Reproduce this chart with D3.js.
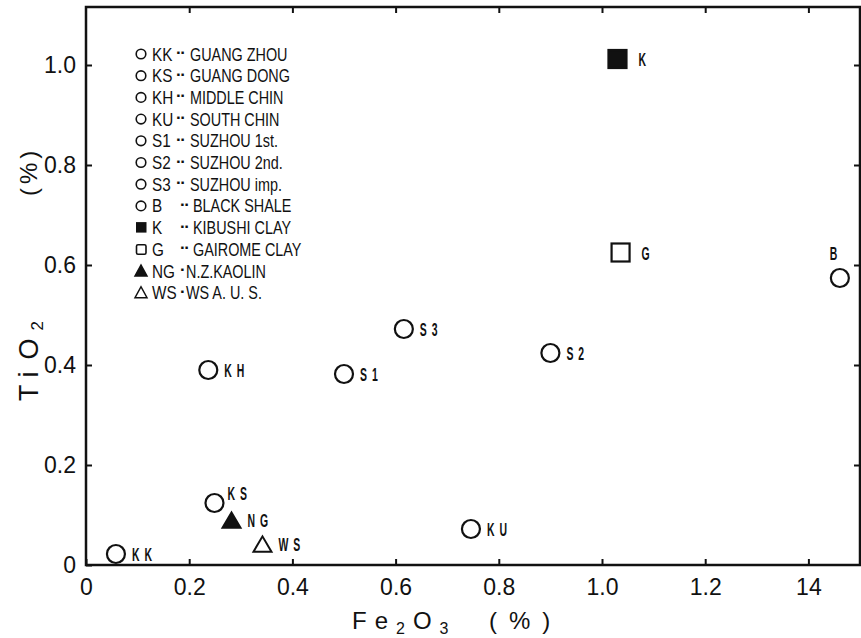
<!DOCTYPE html>
<html><head><meta charset="utf-8">
<script src="https://cdn.jsdelivr.net/npm/d3@7"></script>
<style>
html,body{margin:0;padding:0;background:#fff;}
svg{display:block;}
</style></head>
<body>
<svg id="chart" width="861" height="638"></svg>
<script>
// ---- data ----
const codes   = ["KK","KS","KH","KU","S1","S2","S3","B","K","G","NG","WS"];
const names   = ["GUANG ZHOU","GUANG DONG","MIDDLE CHIN","SOUTH CHIN","SUZHOU 1st.","SUZHOU 2nd.","SUZHOU imp.","BLACK SHALE","KIBUSHI CLAY","GAIROME CLAY","N.Z.KAOLIN","WS A. U. S."];
const seps    = ["··","··","··","··","··","··","··","··","··","··","·","·"];
const fe2o3   = [0.058,0.249,0.237,0.746,0.500,0.900,0.616,1.461,1.030,1.036,0.282,0.342];
const tio2    = [0.022,0.124,0.390,0.072,0.382,0.424,0.472,0.574,1.012,0.625,0.090,0.042];
const symbols = ["circle","circle","circle","circle","circle","circle","circle","circle","squareFilled","squareOpen","triFilled","triOpen"];
const labelPos= ["right","upright","right","right","right","right","right","above","right","right","right","right"];
const xTicks  = [0,0.2,0.4,0.6,0.8,1.0,1.2,1.4];
const xTickLabels = ["0","0.2","0.4","0.6","0.8","1.0","1.2","14"];
const yTicks  = [0,0.2,0.4,0.6,0.8,1.0];
const yTickLabels = ["0","0.2","0.4","0.6","0.8","1.0"];

const svg = d3.select("#chart");
const L=86, R=860, T=7, B=565;
const x = d3.scaleLinear().domain([0,1.5]).range([L,R]);
const y = d3.scaleLinear().domain([0,1.116]).range([B,T]);
const FONT = "'Liberation Sans', Arial, Helvetica, sans-serif";

// axes
const ax = svg.append("g").attr("font-family",FONT);
ax.append("g").attr("transform",`translate(0,${B})`)
  .call(d3.axisBottom(x).tickValues(xTicks).tickSizeInner(-6).tickSizeOuter(0).tickPadding(14)
    .tickFormat((d,i)=>xTickLabels[i]));
ax.append("g").attr("transform",`translate(${L},0)`)
  .call(d3.axisLeft(y).tickValues(yTicks).tickSizeInner(-6).tickSizeOuter(0).tickPadding(10)
    .tickFormat((d,i)=>yTickLabels[i]));
ax.append("g").attr("transform",`translate(0,${T})`)
  .call(d3.axisTop(x).tickValues(xTicks.slice(1)).tickSizeInner(-6).tickSizeOuter(0).tickFormat(""));
ax.append("g").attr("transform",`translate(${R},0)`)
  .call(d3.axisRight(y).tickValues(yTicks.slice(1)).tickSizeInner(-6).tickSizeOuter(0).tickFormat(""));
ax.selectAll(".domain").remove();
ax.selectAll(".tick line").attr("stroke","#111").attr("stroke-width",2);
ax.selectAll(".tick text").attr("font-size",23).attr("fill","#111");

// frame
svg.append("rect").attr("x",L).attr("y",T).attr("width",R-L).attr("height",B-T)
  .attr("fill","none").attr("stroke","#111").attr("stroke-width",2.5);

// symbol drawing
function drawSym(g, type, cx, cy, s){
  if(type==="circle"){
    g.append("circle").attr("cx",cx).attr("cy",cy).attr("r",s*0.5)
     .attr("fill","none").attr("stroke","#111").attr("stroke-width",2.2);
  } else if(type==="squareFilled"||type==="squareOpen"){
    g.append("rect").attr("x",cx-s/2).attr("y",cy-s/2).attr("width",s).attr("height",s)
     .attr("fill",type==="squareFilled"?"#111":"none").attr("stroke","#111").attr("stroke-width",2.2);
  } else {
    const h=s*0.85;
    g.append("path").attr("d",`M${cx-s/2},${cy+h/2}L${cx+s/2},${cy+h/2}L${cx},${cy-h/2}Z`)
     .attr("fill",type==="triFilled"?"#111":"none").attr("stroke","#111").attr("stroke-width",2);
  }
}

// points
const pts = svg.append("g");
codes.forEach((c,i)=>{
  const cx=x(fe2o3[i]), cy=y(tio2[i]);
  drawSym(pts, symbols[i], cx, cy, 18);
  let lx=cx+16, ly=cy, anchor="start";
  if(labelPos[i]==="upright"){lx=cx+13; ly=cy-10;}
  if(labelPos[i]==="above"){lx=cx-4; ly=cy-25; anchor="middle";}
  if(symbols[i].startsWith("square")) lx=cx+21;
  pts.append("text")
    .attr("transform",`translate(${lx},${ly+7}) scale(0.55,1)`)
    .attr("text-anchor",anchor)
    .attr("font-family",FONT).attr("font-size",19).attr("font-weight","bold").attr("letter-spacing",9)
    .attr("fill","#111").text(c);
});

// legend
const lg = svg.append("g").attr("font-family",FONT).attr("fill","#111");
codes.forEach((c,i)=>{
  const cy = 54 + i*21.7;
  const t = symbols[i];
  if(t==="circle") lg.append("circle").attr("cx",141).attr("cy",cy).attr("r",4.8)
       .attr("fill","none").attr("stroke","#111").attr("stroke-width",1.6);
  else if(t==="squareFilled") lg.append("rect").attr("x",136).attr("y",cy-5.5).attr("width",10.5).attr("height",10.5).attr("fill","#111");
  else if(t==="squareOpen") lg.append("rect").attr("x",136.5).attr("y",cy-4.5).attr("width",9.5).attr("height",9.5).attr("rx",1.5)
       .attr("fill","none").attr("stroke","#111").attr("stroke-width",1.6);
  else {
    const p=`M135,${cy+5}L147,${cy+5}L141,${cy-6}Z`;
    lg.append("path").attr("d",p).attr("fill",t==="triFilled"?"#111":"none").attr("stroke","#111").attr("stroke-width",1.5);
  }
  lg.append("text").attr("transform",`translate(152,${cy+6.5}) scale(0.85,1)`).attr("font-size",18).text(c);
  const sepX = seps[i].length===2 ? (c.length===1 ? 180 : 176) : 180;
  lg.append("text").attr("x",sepX).attr("y",cy+4).attr("font-size",17).attr("font-weight","bold").attr("letter-spacing",-1.5).text(seps[i]);
  const nameX = seps[i].length===2 ? (c.length===1 ? 193 : 190) : 186;
  lg.append("text").attr("transform",`translate(${nameX},${cy+6.5}) scale(0.8,1)`).attr("font-size",18).text(names[i]);
});

// axis titles
svg.append("text").attr("x",352).attr("y",629).attr("font-family",FONT).attr("font-size",24).attr("fill","#111")
  .attr("letter-spacing",8)
  .html('Fe<tspan font-size="16" dy="5">2</tspan><tspan dy="-5">O</tspan><tspan font-size="16" dy="5">3</tspan>');
svg.append("text").attr("x",489).attr("y",629).attr("font-family",FONT).attr("font-size",24).attr("fill","#111")
  .attr("letter-spacing",12).text("(%)");
svg.append("text").attr("transform","translate(38,401) rotate(-90)").attr("font-family",FONT).attr("font-size",27)
  .attr("fill","#111").attr("letter-spacing",8)
  .html('Ti<tspan dx="4">O</tspan><tspan font-size="17" dy="5" letter-spacing="0">2</tspan>');
svg.append("text").attr("transform","translate(37,196) rotate(-90)").attr("font-family",FONT).attr("font-size",24)
  .attr("fill","#111").attr("letter-spacing",4).text("(%)");
</script>
</body></html>
